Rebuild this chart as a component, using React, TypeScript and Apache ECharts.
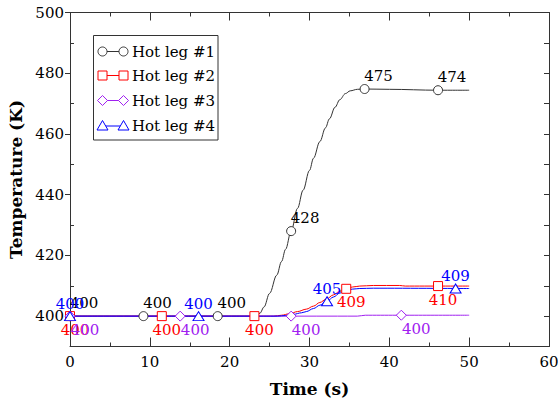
import { useEffect, useRef } from "react";
import * as echarts from "echarts";

const FONT = "DejaVu Serif";

const legNames = ["Hot leg #1", "Hot leg #2", "Hot leg #3", "Hot leg #4"];
const legColors = ["#333333", "#ff0000", "#a020f0", "#0000ff"];
const legSymbols = ["circle", "rect", "diamond", "triangle"];

// curves (time s, temperature K)
const leg1Time = [0, 23.3, 23.8, 24.3, 25.0, 25.9, 26.5, 27.0, 27.7, 28.5, 29.2, 30.0, 30.5, 31.3, 32.0, 32.5, 33.2, 33.8, 34.5, 35.1, 36.0, 36.9, 40, 46.1, 50];
const leg1Temp = [400, 400, 401, 403, 407.5, 413.5, 418, 422, 428, 435.5, 441.5, 448, 452, 457.5, 462, 465, 468.8, 471.3, 473.3, 474.2, 474.7, 474.8, 474.7, 474.4, 474.4];

const leg2Time = [0, 25.5, 26.5, 27.5, 28.5, 29.6, 30.5, 31.3, 32.1, 33.0, 33.8, 34.6, 35.4, 36.3, 38, 41.3, 42, 50];
const leg2Temp = [400, 400, 400.3, 400.8, 401.5, 402.3, 403.3, 404.5, 405.6, 407, 408.2, 409, 409.6, 409.9, 410.1, 410.1, 409.9, 409.9];

const leg3Time = [0, 36, 37, 50];
const leg3Temp = [400, 400, 400.3, 400.3];

const leg4Time = [0, 26, 27, 28, 29, 29.6, 30.5, 31.3, 32.2, 33, 33.8, 34.6, 35.4, 36.3, 38, 50];
const leg4Temp = [400, 400, 400.2, 400.6, 401.1, 401.5, 402.5, 403.6, 404.9, 406.3, 407.6, 408.4, 408.9, 409.1, 409.2, 409.1];

// markers with value labels
const leg1MarkTime = [0, 9.2, 18.5, 27.7, 36.9, 46.1];
const leg1MarkTemp = [400, 400, 400, 428, 474.8, 474.4];
const leg2MarkTime = [0, 11.5, 23.1, 34.6, 46.1];
const leg2MarkTemp = [400, 400, 400, 409, 409.9];
const leg3MarkTime = [0, 13.8, 27.7, 41.5];
const leg3MarkTemp = [400, 400, 400, 400.3];
const leg4MarkTime = [0, 16.1, 32.2, 48.3];
const leg4MarkTemp = [400, 400, 404.9, 409.1];

const xTicks = [0, 10, 20, 30, 40, 50, 60];
const yLabelTicks = [400, 420, 440, 460, 480, 500];
const yMinorTicks = [410, 430, 450, 470, 490];

const curves = [
  [leg1Time, leg1Temp],
  [leg2Time, leg2Temp],
  [leg3Time, leg3Temp],
  [leg4Time, leg4Temp],
];
const marks = [
  [leg1MarkTime, leg1MarkTemp],
  [leg2MarkTime, leg2MarkTemp],
  [leg3MarkTime, leg3MarkTemp],
  [leg4MarkTime, leg4MarkTemp],
];
const labelPos: any[] = [
  { position: "top", offset: [14, 0], distance: 1 },
  { position: "bottom", offset: [5, 0], distance: 1 },
  { position: "bottom", offset: [15, 0], distance: 1 },
  { position: "top", offset: [0, 0], distance: 0 },
];

const zip = (a: number[], b: number[]) => a.map((v, i) => [v, b[i]]);

function legendGraphics() {
  const els: any[] = [];
  const bx = 93.5, by = 35.5, bw = 124.5, bh = 104.5;
  els.push({
    type: "rect",
    shape: { x: bx, y: by, width: bw, height: bh },
    style: { fill: "#fff", stroke: "#333", lineWidth: 1 },
    z: 10,
  });
  const rows = [51.5, 75.5, 100.5, 126];
  const s1 = 102.5, s2 = 123.5;
  rows.forEach((y, i) => {
    const c = legColors[i];
    const st = { fill: "#fff", stroke: c, lineWidth: 1 };
    els.push({ type: "line", shape: { x1: s1, y1: y, x2: s2, y2: y }, style: { stroke: c, lineWidth: 1 }, z: 11 });
    [s1, s2].forEach((cx) => {
      if (i === 0) els.push({ type: "circle", shape: { cx, cy: y, r: 4.5 }, style: st, z: 12 });
      if (i === 1) els.push({ type: "rect", shape: { x: cx - 4.5, y: y - 4.5, width: 9, height: 9 }, style: st, z: 12 });
      if (i === 2) els.push({ type: "polygon", shape: { points: [[cx, y - 5], [cx + 5, y], [cx, y + 5], [cx - 5, y]] }, style: st, z: 12 });
      if (i === 3) els.push({ type: "polygon", shape: { points: [[cx, y - 5.5], [cx + 5.5, y + 4], [cx - 5.5, y + 4]] }, style: st, z: 12 });
    });
    els.push({
      type: "text",
      x: 132,
      y,
      style: { text: legNames[i], font: `15px "${FONT}"`, fill: "#000", verticalAlign: "middle", align: "left" },
      z: 12,
    });
  });
  return els;
}

export default function App() {
  const ref = useRef<HTMLDivElement>(null);
  useEffect(() => {
    if (!ref.current) return;
    const chart = echarts.init(ref.current, undefined, { renderer: "svg" });
    const axisLine = { show: true, lineStyle: { color: "#333", width: 1 } };
    const series: any[] = [];
    curves.forEach(([t, v], i) => {
      series.push({
        type: "line",
        name: legNames[i],
        data: zip(t, v),
        showSymbol: false,
        smooth: 0.35,
        smoothMonotone: "x",
        lineStyle: { color: legColors[i], width: 1 },
        z: 2 + i * 0.1,
        silent: true,
      });
    });
    marks.forEach(([t, v], i) => {
      series.push({
        type: "scatter",
        name: legNames[i] + " marks",
        data: zip(t, v),
        symbol: legSymbols[i],
        symbolSize: i === 3 ? [11, 9] : i === 2 ? 10 : 9,
        itemStyle: { color: "#ffffff", borderColor: legColors[i], borderWidth: 1, opacity: 1 },
        label: {
          show: true,
          ...labelPos[i],
          formatter: (p: any) => String(Math.round(p.value[1])),
          color: i === 0 ? "#000000" : legColors[i],
          fontFamily: FONT,
          fontSize: 15,
          textBorderWidth: 0,
        },
        emphasis: { disabled: true },
        z: 5,
        silent: true,
      });
    });
    chart.setOption({
      animation: false,
      backgroundColor: "#fff",
      grid: { left: 70, right: 9, top: 12.5, bottom: 55.5, outerBoundsMode: "none", containLabel: false },
      xAxis: [
        {
          type: "value",
          position: "bottom",
          min: 0,
          max: 60,
          interval: 10,
          name: "Time (s)",
          nameLocation: "middle",
          nameGap: 34,
          nameTextStyle: { fontFamily: FONT, fontSize: 17, fontWeight: "bold", color: "#000" },
          axisLine,
          axisTick: { show: true, inside: true, length: 9, lineStyle: { color: "#333" } },
          minorTick: { show: true, splitNumber: 2, length: 4, lineStyle: { color: "#333" } },
          axisLabel: { fontFamily: FONT, fontSize: 15, color: "#000", margin: 8, customValues: xTicks },
          splitLine: { show: false },
        },
        {
          type: "value",
          position: "top",
          min: 0,
          max: 60,
          interval: 10,
          axisLine,
          axisTick: { show: true, inside: true, length: 8, lineStyle: { color: "#333" } },
          minorTick: { show: true, splitNumber: 2, length: 4, lineStyle: { color: "#333" } },
          axisLabel: { show: false },
          splitLine: { show: false },
        },
      ],
      yAxis: [
        {
          type: "value",
          position: "left",
          min: 390,
          max: 500,
          interval: 10,
          name: "Temperature (K)",
          nameLocation: "middle",
          nameGap: 44,
          nameTextStyle: { fontFamily: FONT, fontSize: 17, fontWeight: "bold", color: "#000" },
          axisLine,
          axisTick: { show: true, inside: false, length: 5, customValues: yLabelTicks, lineStyle: { color: "#333" } },
          axisLabel: { fontFamily: FONT, fontSize: 15, color: "#000", margin: 6, customValues: yLabelTicks },
          splitLine: { show: false },
        },
        {
          type: "value",
          position: "left",
          min: 390,
          max: 500,
          interval: 10,
          axisLine: { show: false },
          axisTick: { show: true, inside: true, length: 4, customValues: yMinorTicks, lineStyle: { color: "#333" } },
          axisLabel: { show: false },
          splitLine: { show: false },
        },
        {
          type: "value",
          position: "right",
          min: 390,
          max: 500,
          interval: 10,
          axisLine,
          axisTick: { show: true, inside: true, length: 5, lineStyle: { color: "#333" } },
          axisLabel: { show: false },
          splitLine: { show: false },
        },
      ],
      series,
      graphic: legendGraphics(),
    });
    return () => chart.dispose();
  }, []);
  return <div ref={ref} style={{ width: 558, height: 402, position: "absolute", left: 0, top: 0 }} />;
}
